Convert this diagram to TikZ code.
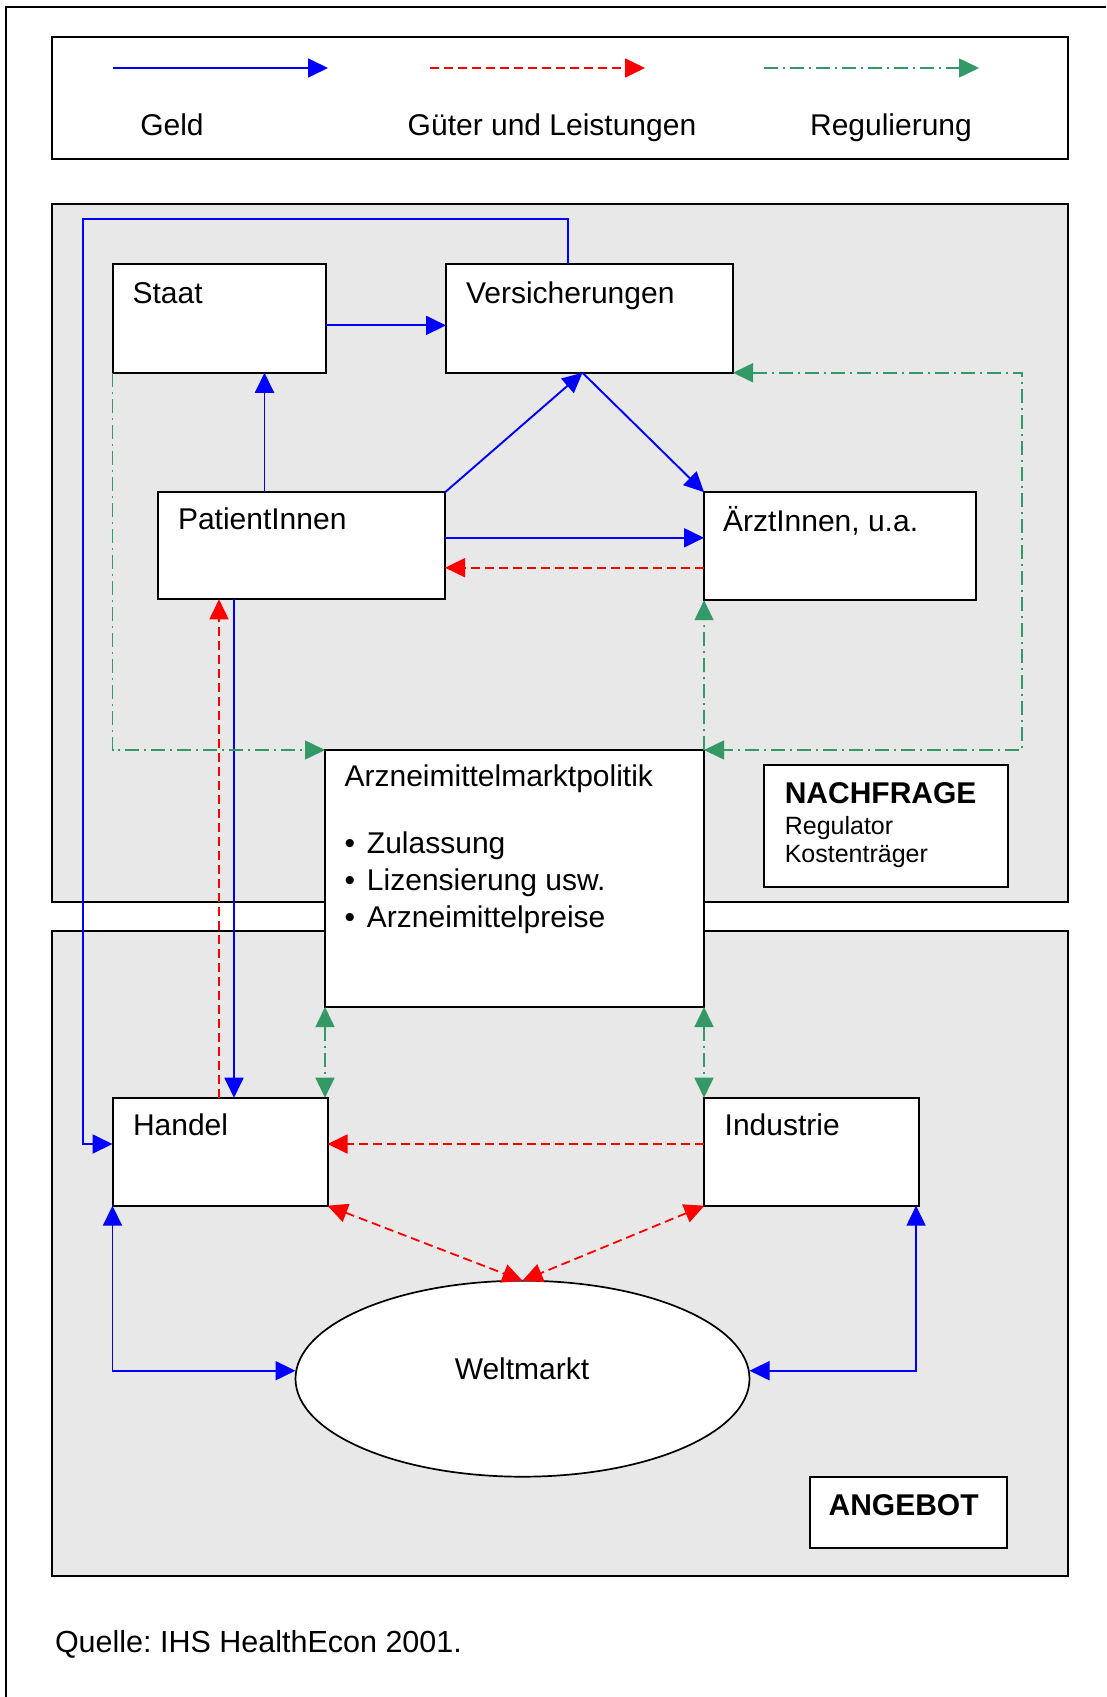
\documentclass[tikz,border=0pt]{standalone}
\usepackage{fontspec}
\setmainfont{Liberation Sans}
\usetikzlibrary{arrows.meta,shapes.geometric,calc}
\definecolor{geldblue}{RGB}{0,0,255}
\definecolor{gutred}{RGB}{255,0,0}
\definecolor{reggreen}{RGB}{51,153,102}
\definecolor{panelgray}{RGB}{232,232,232}
\newcommand\fsMain{\fontsize{30}{36}\selectfont}
\newcommand\fsSmall{\fontsize{25}{30}\selectfont}
\newcommand\fsQuelle{\fontsize{30.5}{37}\selectfont}
\frenchspacing
\begin{document}
\begin{tikzpicture}[x=1pt,y=-1pt,
  panel/.style={draw=black, line width=2pt, fill=panelgray, inner sep=0pt, outer sep=0pt},
  box/.style={draw=black, line width=2pt, fill=white, inner sep=0pt, outer sep=0pt},
  txt/.style={inner sep=0pt, outer sep=0pt, anchor=base west, font=\fsMain},
  tip/.style={-{Triangle[length=20pt,width=19pt]}},
  tipboth/.style={{Triangle[length=20pt,width=19pt]}-{Triangle[length=20pt,width=19pt]}},
  geld/.style={draw=geldblue, line width=1.9pt},
  gut/.style={draw=gutred, line width=1.8pt, dash pattern=on 9pt off 5pt},
  reg/.style={draw=reggreen, line width=1.6pt, dash pattern=on 14pt off 5pt on 2pt off 5pt},
]
\useasboundingbox (0,0) rectangle (1106,1697);
\fill[white] (0,0) rectangle (1106,1697);
% outer frame (top and left only)
\draw[line width=1.5pt] (1106,7) -- (6,7) -- (6,1697);

% panels and legend
\node[panel, minimum width=1016pt, minimum height=698pt] (nach) at (560,553) {};
\node[panel, minimum width=1016pt, minimum height=645pt] (ang) at (560,1253.5) {};
\node[box, minimum width=1016pt, minimum height=122pt] (leg) at (560,98) {};

% legend
\coordinate (lg1) at (113,68);  \coordinate (lg2) at (328,68);
\coordinate (lr1) at (430,68);  \coordinate (lr2) at (645,68);
\coordinate (lgr1) at (764,68); \coordinate (lgr2) at (979,68);
\draw[geld,tip] (lg1) -- (lg2);
\draw[gut,tip] (lr1) -- (lr2);
\draw[reg,tip] (lgr1) -- (lgr2);
\node[txt, anchor=base] (legG) at (172,135) {Geld};
\node[txt, anchor=base] (legL) at (552,135) {Güter und Leistungen};
\node[txt, anchor=base] (legR) at (891,135) {Regulierung};

% boxes
\node[box, minimum width=213pt, minimum height=108.7pt] (staat) at (219,318.4) {};
\node[box, minimum width=287pt, minimum height=108.7pt] (vers) at (589.5,318.4) {};
\node[box, minimum width=287pt, minimum height=107pt] (pat) at (301.5,545.8) {};
\node[box, minimum width=271.5pt, minimum height=108pt] (aerzt) at (839.8,546.2) {};
\node[box, minimum width=379pt, minimum height=257pt] (arz) at (514.5,878.5) {};
\node[box, minimum width=215pt, minimum height=108pt] (handel) at (220,1151.7) {};
\node[box, minimum width=214.3pt, minimum height=108pt] (ind) at (811.5,1151.7) {};
\node[box, ellipse, line width=1.7pt, minimum width=454pt, minimum height=196pt] (welt) at (522.5,1378.7) {};
\node[box, minimum width=243.5pt, minimum height=121.7pt] (nachbox) at (885.8,825.9) {};
\node[box, minimum width=197.4pt, minimum height=71.3pt] (angbox) at (908.3,1512.7) {};

% texts
\node[txt] (staatT) at (132.6,303) {Staat};
\node[txt] (versT) at (466,303) {Versicherungen};
\node[txt] (patT) at (178,529.3) {PatientInnen};
\node[txt] (aerztT) at (723,531) {ÄrztInnen, u.a.};
\node[txt] (arzT0) at (344.6,786.8) {Arzneimittelmarktpolitik};
\node[txt] (arzT1) at (344.6,853.6) {\makebox[22.4pt][l]{•}Zulassung};
\node[txt] (arzT2) at (344.6,890.4) {\makebox[22.4pt][l]{•}Lizensierung usw.};
\node[txt] (arzT3) at (344.6,927) {\makebox[22.4pt][l]{•}Arzneimittelpreise};
\node[txt] (handelT) at (133,1135) {Handel};
\node[txt] (indT) at (724.7,1135) {Industrie};
\node[txt, anchor=base] (weltT) at (522,1379) {Weltmarkt};
\node[txt, font=\fsMain\bfseries] (nachT) at (784.8,803.7) {NACHFRAGE};
\node[txt, font=\fsSmall] (nachR) at (784.8,834.4) {Regulator};
\node[txt, font=\fsSmall] (nachK) at (784.8,862) {Kostenträger};
\node[txt, font=\fsMain\bfseries] (angT) at (828.6,1515) {ANGEBOT};
\node[txt, font=\fsQuelle] (quelle) at (55,1652) {Quelle: IHS HealthEcon 2001.};

% Geld connectors
\draw[geld,tip] ([yshift=-7pt]staat.east) -- ([yshift=-7pt]staat.east -| vers.west);
\draw[geld,tip] ([xshift=-37pt]pat.north) -- ([xshift=-37pt]pat.north |- staat.south);
\coordinate (vb) at ([xshift=-7pt]vers.south);
\draw[geld,tip] (pat.north east) -- (vb);
\draw[geld,tip] (vb) -- (aerzt.north west);
\draw[geld,tip] ([yshift=8pt]pat.east) -- ([yshift=8pt]pat.east -| aerzt.west);
\coordinate (loopc) at (82.6,219);
\draw[geld,tip] ([xshift=-21.5pt]vers.north) |- (loopc) |- ([yshift=7.7pt]handel.west);
\draw[geld,tip] ([xshift=-67.5pt]pat.south) -- ([xshift=-67.5pt]pat.south |- handel.north);
\draw[geld,tipboth] (handel.south west) |- ([yshift=8pt]welt.west);
\draw[geld,tipboth] ([xshift=-2.6pt]ind.south east) |- ([yshift=8pt]welt.east);

% Gueter connectors
\draw[gut,tip] ([yshift=-21.5pt]aerzt.west) -- ([yshift=-21.5pt]aerzt.west -| pat.east);
\draw[gut,tip] ([xshift=-1pt]handel.north) -- ([xshift=-1pt]handel.north |- pat.south);
\draw[gut,tip] ([yshift=7.7pt]ind.west) -- ([yshift=7.7pt]ind.west -| handel.east);
\draw[gut,tipboth] (handel.south east) -- (welt.north);
\draw[gut,tipboth] (ind.south west) -- (welt.north);

% Regulierung connectors
\draw[reg,tip] (staat.south west) |- (arz.north west);
\coordinate (rgc) at (1022,750);
\draw[reg,tipboth] (vers.south east) -| (rgc) -- (arz.north east);
\draw[reg,tip] (arz.north east) -- (aerzt.south west);
\draw[reg,tipboth] (arz.south west) -- (arz.south west |- handel.north);
\draw[reg,tipboth] (arz.south east) -- (arz.south east |- ind.north);
\end{tikzpicture}
\end{document}
